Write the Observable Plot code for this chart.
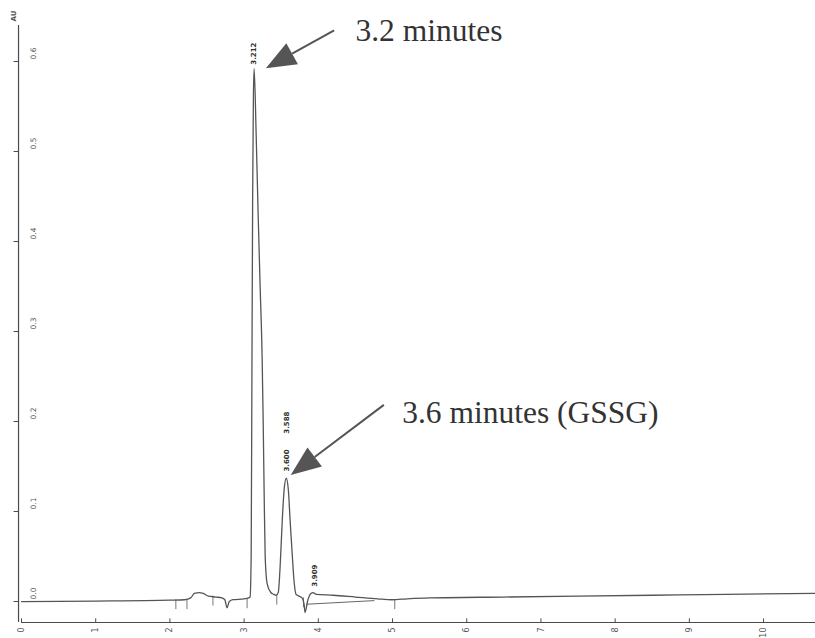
<!DOCTYPE html>
<html>
<head>
<meta charset="utf-8">
<script src="https://cdn.jsdelivr.net/npm/d3@7"></script>
<script src="https://cdn.jsdelivr.net/npm/@observablehq/plot@0.6"></script>
<style>
  html, body { margin: 0; padding: 0; background: #fff; }
  #chart svg { display: block; }
</style>
</head>
<body>
<div id="chart"></div>
<script>
// Retention time (min) of the detector trace
const traceTime = [0, 1.0, 2.0, 2.2, 2.28, 2.33, 2.40, 2.45, 2.52, 2.62, 2.70, 2.74, 2.77, 2.80, 2.85, 3.0, 3.06,
  3.08, 3.095, 3.105, 3.115, 3.125, 3.135, 3.162, 3.189, 3.216, 3.243, 3.257, 3.27, 3.284, 3.31, 3.36, 3.40, 3.43,
  3.46, 3.486, 3.514, 3.54, 3.568, 3.595, 3.62, 3.65, 3.676, 3.70, 3.74, 3.78, 3.81, 3.82, 3.86, 3.90, 3.93, 3.97,
  4.2, 4.5, 4.8, 4.99, 5.2, 5.5, 6.5, 7.5, 8.5, 9.5, 10.7];
// Detector response (AU)
const traceValue = [0, 0.0005, 0.0015, 0.002, 0.004, 0.009, 0.010, 0.009, 0.006, 0.005, 0.004, 0.002, -0.007, 0.0, 0.002, 0.003, 0.004,
  0.005, 0.05, 0.25, 0.45, 0.56, 0.592, 0.52, 0.43, 0.35, 0.27, 0.2, 0.12, 0.05, 0.02, 0.01, 0.008, 0.007,
  0.01, 0.04, 0.09, 0.125, 0.137, 0.125, 0.09, 0.05, 0.02, 0.008, 0.006, 0.004, -0.004, -0.012, 0.002, 0.009, 0.010, 0.008,
  0.007, 0.005, 0.003, 0.002, 0.003, 0.004, 0.005, 0.006, 0.007, 0.008, 0.009];

// Integrator baseline drawn under the small late peak
const baseTime = [3.84, 4.75];
const baseValue = [-0.003, 0.001];

// Integrator event marks (start/end of peaks)
const eventTime = [2.08, 2.23, 2.58, 3.04, 3.44, 3.80, 5.03];
const eventValue = [0.002, 0.002, 0.006, 0.003, 0.007, 0.004, 0.002];

// Peak retention-time labels
const peakLabel = ["3.212", "3.588", "3.600", "3.909"];
const peakTime = [3.135, 3.568, 3.568, 3.955];
const peakTop = [0.592, 0.182, 0.14, 0.012];

// Axis ticks
const xTicks = [0, 1, 2, 3, 4, 5, 6, 7, 8, 9, 10];
const yTicks = [0.0, 0.1, 0.2, 0.3, 0.4, 0.5, 0.6];
const yUnit = "AU";

// Annotations
const noteText = ["3.2 minutes", "3.6 minutes (GSSG)"];
const noteX = [4.5, 5.13];
const noteY = [0.634, 0.21];
const arrowFromX = [4.22, 4.89];
const arrowFromY = [0.634, 0.218];
const arrowToX = [3.30, 3.635];
const arrowToY = [0.592, 0.14];

const trace = traceTime.map((t, i) => ({t, v: traceValue[i]}));
const base = baseTime.map((t, i) => ({t, v: baseValue[i]}));
const events = eventTime.map((t, i) => ({t, v: eventValue[i]}));
const peaks = peakLabel.map((s, i) => ({s, t: peakTime[i], v: peakTop[i]}));
const notes = noteText.map((s, i) => ({s, x: noteX[i], y: noteY[i]}));
const xTickData = xTicks.map(d => ({d}));
const yTickData = yTicks.map(d => ({d}));

const yMin = -0.0233, yMax = 0.6678, yAxisTop = 0.64;
const ink = "#4a4a4a";

const plot = Plot.plot({
  width: 815,
  height: 638,
  marginLeft: 21,
  marginRight: 0,
  marginTop: 0,
  marginBottom: 16,
  x: {type: "linear", domain: [0, 10.7], axis: null},
  y: {type: "linear", domain: [yMin, yMax], axis: null},
  style: {background: "#fff"},
  marks: [
    // axes lines
    Plot.ruleY([yMin], {stroke: ink, strokeWidth: 1.2}),
    Plot.ruleX([-0.04], {y1: yMin, y2: yAxisTop, stroke: ink, strokeWidth: 1.2}),
    // x ticks and labels
    Plot.ruleX(xTickData, {x: "d", y1: yMin, y2: yMin + 0.004, stroke: ink}),
    Plot.text(xTickData, {x: "d", y: yMin, text: d => String(d.d), rotate: -90, textAnchor: "end",
      dy: 5, fontSize: 8, fill: "#555", fontFamily: "DejaVu Sans"}),
    // y ticks and labels
    Plot.ruleY(yTickData, {y: "d", x1: -0.1, x2: -0.04, stroke: ink}),
    Plot.text(yTickData, {x: 0, y: "d", text: d => d.d.toFixed(1), rotate: -90, dx: 12, dy: -8,
      fontSize: 7.5, fill: "#555", fontFamily: "DejaVu Sans"}),
    Plot.text([yUnit], {x: 0, y: yAxisTop, text: d => d, rotate: -90, textAnchor: "start", dx: -8, dy: -4,
      fontSize: 7, fill: "#555", fontFamily: "DejaVu Sans", fontWeight: "bold"}),
    // integrator marks
    Plot.ruleX(events, {x: "t", y1: "v", y2: d => d.v - 0.011, stroke: "#777", strokeWidth: 1}),
    Plot.line(base, {x: "t", y: "v", stroke: "#666", strokeWidth: 1}),
    // detector trace
    Plot.line(trace, {x: "t", y: "v", stroke: "#555", strokeWidth: 1.3, curve: "monotone-x"}),
    // peak labels
    Plot.text(peaks, {x: "t", y: "v", text: "s", rotate: -90, textAnchor: "start", dy: -4,
      fontSize: 7, fill: "#333", fontFamily: "DejaVu Sans", fontWeight: "bold"}),
    // annotations
    Plot.text(notes, {x: "x", y: "y", text: "s", textAnchor: "start", fontSize: 31.5,
      fill: "#333", fontFamily: "Liberation Serif"})
  ]
});

document.getElementById("chart").appendChild(plot);

// Filled arrows drawn through the plot's own scales
const sx = plot.scale("x"), sy = plot.scale("y");
const svg = d3.select(plot);
const g = svg.append("g").attr("fill", "#555").attr("stroke", "#555");
arrowFromX.forEach((ax, i) => {
  const x1 = sx.apply(ax), y1 = sy.apply(arrowFromY[i]);
  const x2 = sx.apply(arrowToX[i]), y2 = sy.apply(arrowToY[i]);
  const dx = x2 - x1, dy = y2 - y1, len = Math.hypot(dx, dy);
  const ux = dx / len, uy = dy / len;
  const L = 30, W = 12;
  const bx = x2 - ux * L, by = y2 - uy * L;
  g.append("line").attr("x1", x1).attr("y1", y1).attr("x2", bx).attr("y2", by).attr("stroke-width", 2);
  g.append("polygon").attr("stroke", "none")
    .attr("points", [[x2, y2], [bx - uy * W, by + ux * W], [bx + uy * W, by - ux * W]].map(p => p.join(",")).join(" "));
});
</script>
</body>
</html>
